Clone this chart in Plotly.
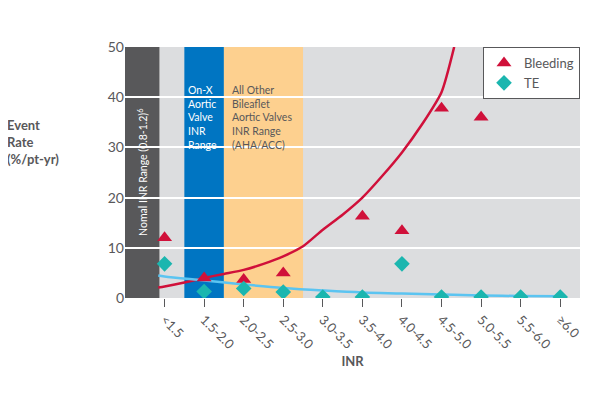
import plotly.graph_objects as go

categories = ['<1.5', '1.5-2.0', '2.0-2.5', '2.5-3.0', '3.0-3.5', '3.5-4.0',
              '4.0-4.5', '4.5-5.0', '5.0-5.5', '5.5-6.0', '≥6.0']
cat_pos = list(range(len(categories)))

# Bleeding, None where no marker shown
bleeding = [12, 4, 3.7, 5, None, 16.3, 13.4, 37.8, 36, None, None]
te = [6.8, 1.3, 1.9, 1.2, 0.2, 0.2, 6.8, 0.2, 0.2, 0.2, 0.2]

# trend lines
bleed_fit_x = [-0.16, 0, 0.5, 1, 1.5, 2, 2.5, 3, 3.5, 4, 4.5, 5, 5.5, 6, 6.5, 7, 7.32]
bleed_fit_y = [2.1, 2.3, 3.1, 4, 4.8, 5.6, 6.8, 8.3, 10.3, 13.6, 16.6, 20, 24.3, 29, 34.5, 41, 50]
te_fit_x = [-0.16, 0, 1, 2, 3, 4, 5, 6, 7, 8, 9, 10]
te_fit_y = [4.5, 4.3, 3.5, 2.7, 2.0, 1.5, 1.1, 0.9, 0.7, 0.5, 0.4, 0.33]

fig = go.Figure()

# shaded ranges
fig.add_vrect(x0=-1, x1=-0.13, fillcolor='#58585a', opacity=1, line_width=0, layer='below')
fig.add_vrect(x0=0.5, x1=1.5, fillcolor='#0075c2', opacity=1, line_width=0, layer='below')
fig.add_vrect(x0=1.5, x1=3.5, fillcolor='#fdd08f', opacity=1, line_width=0, layer='below')

fig.add_trace(go.Scatter(x=bleed_fit_x, y=bleed_fit_y, mode='lines', line_shape='spline',
                         line=dict(color='#d0103a', width=2.5, smoothing=0.6),
                         showlegend=False, hoverinfo='skip'))
fig.add_trace(go.Scatter(x=te_fit_x, y=te_fit_y, mode='lines', line_shape='spline',
                         line=dict(color='#5bc4f1', width=2.5), showlegend=False, hoverinfo='skip'))
fig.add_trace(go.Scatter(x=cat_pos, y=bleeding, mode='markers', name='Bleeding',
                         marker=dict(symbol='triangle-up', size=13, color='#d0103a')))
fig.add_trace(go.Scatter(x=cat_pos, y=te, mode='markers', name='TE',
                         marker=dict(symbol='diamond', size=12, color='#1bb6af')))

txt = dict(color='white', size=10.5, family='Lato')
fig.add_annotation(x=-0.56, y=25, text='Nomal INR Range (0.8-1.2)<sup>6</sup>', textangle=-90,
                   showarrow=False, font=txt)
fig.add_annotation(x=0.55, y=43, xanchor='left', yanchor='top', align='left', showarrow=False,
                   text='On-X<br>Aortic<br>Valve<br>INR<br>Range', font=txt)
fig.add_annotation(x=1.65, y=43, xanchor='left', yanchor='top', align='left', showarrow=False,
                   text='All Other<br>Bileaflet<br>Aortic Valves<br>INR Range<br>(AHA/ACC)',
                   font=dict(color='#58585a', size=10.5, family='Lato'))

fig.add_annotation(xref='paper', yref='paper', x=-0.14, y=0.62, xanchor='right', align='left',
                   showarrow=False, text='<b>Event<br>Rate<br>(%/pt-yr)</b>',
                   font=dict(color='#58585a', size=13, family='Lato'))

fig.update_layout(
    width=600, height=400,
    margin=dict(l=117, r=28, t=39, b=110, autoexpand=False),
    plot_bgcolor='#dcdddf', paper_bgcolor='white',
    font=dict(family='Lato', color='#58585a', size=13),
    xaxis=dict(range=[-1, 10.5], tickvals=cat_pos, ticktext=categories, tickangle=45,
               showgrid=False, zeroline=False, ticks='outside', ticklen=8, tickcolor='#58585a',
               automargin=False, title=dict(text='<b>INR</b>', font=dict(size=13), standoff=5)),
    yaxis=dict(range=[0, 50], dtick=10, gridcolor='white', gridwidth=1.5, zeroline=False,
               automargin=False, tickfont=dict(size=14)),
    legend=dict(x=1, y=1, xanchor='right', yanchor='top', bgcolor='white',
                bordercolor='#58585a', borderwidth=1, font=dict(size=13)),
)

fig.write_html('out.html')
